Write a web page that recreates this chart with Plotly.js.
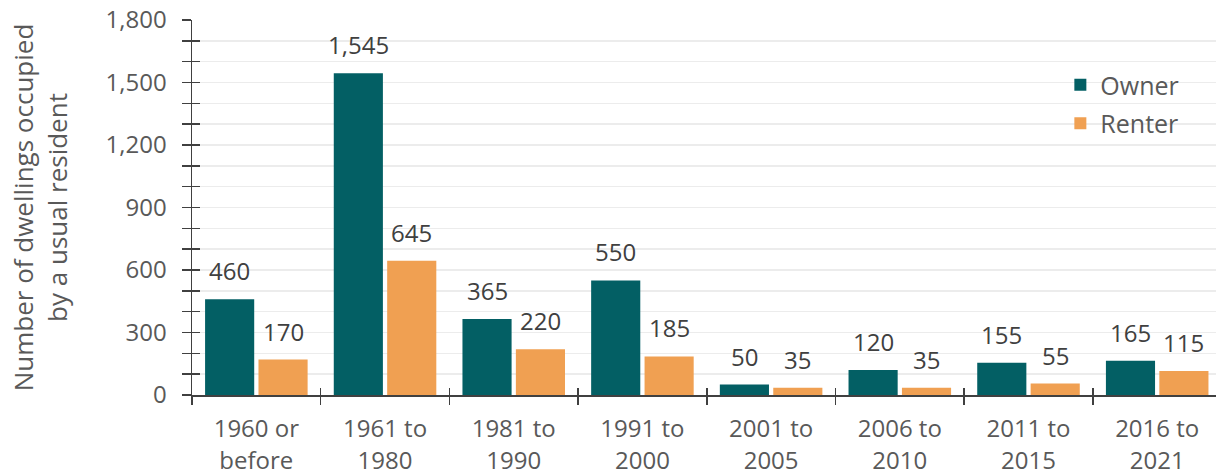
<!DOCTYPE html>
<html>
<head>
<meta charset="utf-8">
<script src="https://cdn.plot.ly/plotly-3.0.1.min.js"></script>
<style>
  html, body { margin: 0; padding: 0; background: #ffffff; }
  #chart { width: 1216px; height: 476px; }
</style>
</head>
<body>
<div id="chart"></div>
<script>
// Dwellings occupied by a usual resident, by period of construction and tenure
const periods = ['1960 or<br>before', '1961 to<br>1980', '1981 to<br>1990', '1991 to<br>2000',
                 '2001 to<br>2005', '2006 to<br>2010', '2011 to<br>2015', '2016 to<br>2021'];
const owner  = [460, 1545, 365, 550, 50, 120, 155, 165];
const renter = [170, 645, 220, 185, 35, 35, 55, 115];
const seriesNames = ['Owner', 'Renter'];

const OWNER_COLOR = '#035f64';
const RENTER_COLOR = '#f0a052';
const AXIS_COLOR = '#404040';
const TEXT_COLOR = '#595959';
const LABEL_COLOR = '#404040';
const GRID_COLOR = '#ececec';
const FONT = 'Open Sans, Liberation Sans, Arial, sans-serif';

const X_RANGE = [-0.5, 7.457];
const Y_RANGE = [0, 1800];
const BARGAP = 0.17;
const GROUPGAP = 0.08;

const plotWidthPx = 1216 - 192;
const catWidthPx = plotWidthPx / (X_RANGE[1] - X_RANGE[0]);
const slotPx = catWidthPx * (1 - BARGAP) / 2;

const traces = [
  { type: 'bar', name: seriesNames[0], x: periods, y: owner,
    marker: { color: OWNER_COLOR }, legendgroup: 'a', hoverinfo: 'y' },
  { type: 'bar', name: seriesNames[1], x: periods, y: renter,
    marker: { color: RENTER_COLOR }, legendgroup: 'b', hoverinfo: 'y' },
  // carrier for the overlay axes that draw the inner half of the tick marks
  { type: 'scatter', x: [], y: [], xaxis: 'x2', yaxis: 'y2',
    showlegend: false, hoverinfo: 'skip' }
];

// value labels above each bar
const annotations = [];
[owner, renter].forEach((vals, s) => {
  const dx = (s === 0 ? -1 : 1) * slotPx / 2;
  vals.forEach((v, i) => {
    annotations.push({
      x: periods[i], y: v, xref: 'x', yref: 'y',
      text: v.toLocaleString('en-US'),
      showarrow: false, xanchor: 'center', yanchor: 'bottom',
      xshift: dx, yshift: 10,
      font: { family: FONT, size: 24, color: LABEL_COLOR }
    });
  });
});

const layout = {
  width: 1216, height: 476,
  margin: { l: 192, r: 0, t: 20, b: 81 },
  paper_bgcolor: '#ffffff', plot_bgcolor: '#ffffff',
  font: { family: FONT, size: 24, color: TEXT_COLOR },
  barmode: 'group', bargap: BARGAP, bargroupgap: GROUPGAP,
  showlegend: true,
  legend: {
    x: 0.848, y: 0.888, xanchor: 'left', yanchor: 'top',
    bgcolor: 'rgba(0,0,0,0)', font: { family: FONT, size: 25, color: TEXT_COLOR },
    tracegroupgap: 3
  },
  xaxis: {
    type: 'category', range: X_RANGE, tickson: 'boundaries',
    ticks: 'outside', ticklen: 8, tickwidth: 1.5, tickcolor: AXIS_COLOR,
    showline: true, linecolor: AXIS_COLOR, linewidth: 1.5,
    showgrid: false, zeroline: false, fixedrange: true,
    ticklabelstandoff: 12,
    tickfont: { family: FONT, size: 24, color: TEXT_COLOR }
  },
  yaxis: {
    range: Y_RANGE, tick0: 0, dtick: 300, tickformat: ',d',
    ticks: 'outside', ticklen: 9, tickwidth: 1.5, tickcolor: AXIS_COLOR,
    showline: true, linecolor: AXIS_COLOR, linewidth: 1.5,
    showgrid: true, gridcolor: GRID_COLOR, gridwidth: 1.5,
    zeroline: false, fixedrange: true,
    ticklabelstandoff: 10,
    minor: { dtick: 100, ticks: 'outside', ticklen: 9, tickwidth: 1.5, tickcolor: AXIS_COLOR,
             showgrid: true, gridcolor: GRID_COLOR, gridwidth: 1.5 },
    tickfont: { family: FONT, size: 24, color: TEXT_COLOR },
    title: { text: 'Number of dwellings occupied<br>by a usual resident',
             font: { family: FONT, size: 26, color: TEXT_COLOR }, standoff: 30 }
  },
  xaxis2: {
    overlaying: 'x', anchor: 'y2', range: X_RANGE,
    tickmode: 'linear', tick0: 0.5, dtick: 1,
    ticks: 'inside', ticklen: 7, tickwidth: 1.5, tickcolor: AXIS_COLOR,
    showticklabels: false, showline: false, showgrid: false, zeroline: false, fixedrange: true
  },
  yaxis2: {
    overlaying: 'y', anchor: 'x2', range: Y_RANGE,
    tickmode: 'linear', tick0: 0, dtick: 300,
    ticks: 'inside', ticklen: 8, tickwidth: 1.5, tickcolor: AXIS_COLOR,
    minor: { dtick: 100, ticks: 'inside', ticklen: 8, tickwidth: 1.5, tickcolor: AXIS_COLOR },
    showticklabels: false, showline: false, showgrid: false, zeroline: false, fixedrange: true
  },
  annotations: annotations
};

Plotly.newPlot('chart', traces, layout, { displayModeBar: false, staticPlot: true });
</script>
</body>
</html>
